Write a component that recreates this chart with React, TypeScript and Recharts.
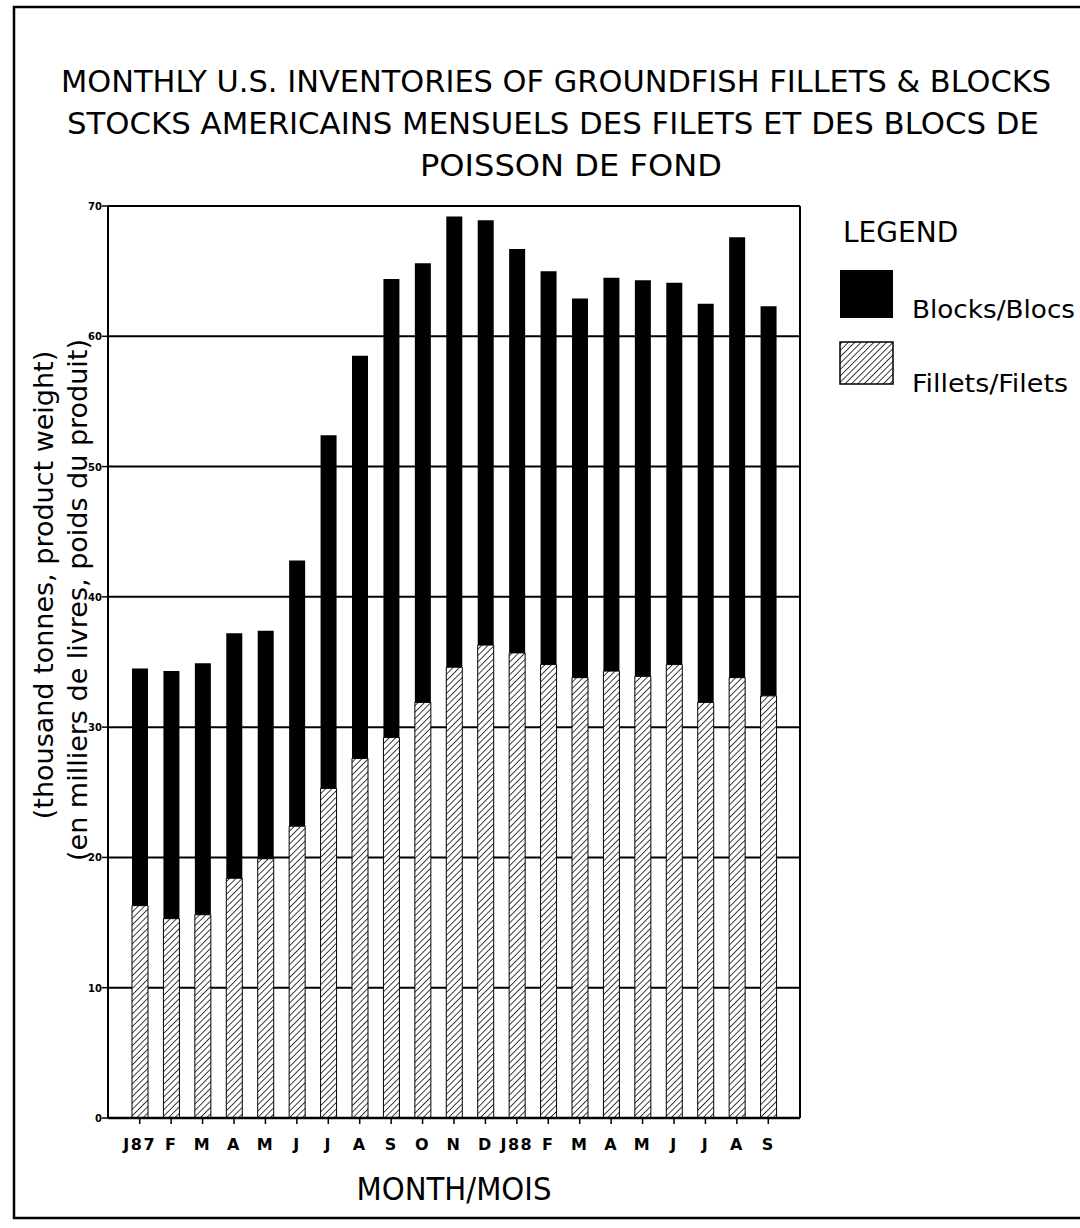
import { Bar, BarChart, CartesianGrid, XAxis, YAxis } from "recharts";

// month labels, Jan 1987 to Sep 1988
const months = ["J87", "F", "M", "A", "M", "J", "J", "A", "S", "O", "N", "D", "J88", "F", "M", "A", "M", "J", "J", "A", "S"];
// thousand tonnes
const fillets = [16.3, 15.3, 15.6, 18.4, 19.9, 22.4, 25.3, 27.6, 29.2, 31.9, 34.6, 36.3, 35.7, 34.8, 33.8, 34.3, 33.9, 34.8, 31.9, 33.8, 32.4];
const blocks = [18.2, 19.0, 19.3, 18.8, 17.5, 20.4, 27.1, 30.9, 35.2, 33.7, 34.6, 32.6, 31.0, 30.2, 29.1, 30.2, 30.4, 29.3, 30.6, 33.8, 29.9];
const yTicks = [0, 10, 20, 30, 40, 50, 60, 70];

const titleLines = [
  "MONTHLY U.S. INVENTORIES OF GROUNDFISH FILLETS & BLOCKS",
  "STOCKS AMERICAINS MENSUELS DES FILETS ET DES BLOCS DE",
  "POISSON DE FOND",
];
const yTitleLines = ["(thousand tonnes, product weight)", "(en milliers de livres, poids du produit)"];
const legendItems = ["Blocks/Blocs", "Fillets/Filets"];

const FONT = "'DejaVu Sans', Verdana, sans-serif";

const chartData = months.map((m, i) => ({ idx: i, month: m, fillets: fillets[i], blocks: blocks[i] }));

function hatch(id: string) {
  return (
    <pattern id={id} patternUnits="userSpaceOnUse" width={4.5} height={4.5} patternTransform="rotate(45)">
      <rect width={4.5} height={4.5} fill="#fff" />
      <line x1={0} y1={0} x2={0} y2={4.5} stroke="#000" strokeWidth={1.5} />
    </pattern>
  );
}

const XTick = (props: any) => (
  <text
    x={props.x}
    y={props.y + 24}
    textAnchor="middle"
    fontFamily={FONT}
    fontWeight="bold"
    fontSize={16}
    letterSpacing={1.5}
    fill="#000"
  >
    {months[props.payload.value]}
  </text>
);

const YTick = (props: any) => (
  <text x={props.x + 2} y={props.y + 4} textAnchor="end" fontFamily={FONT} fontWeight="bold" fontSize={10} fill="#000">
    {props.payload.value}
  </text>
);

export default function App() {
  return (
    <div style={{ position: "absolute", left: 0, top: 0, width: 1080, height: 1228, background: "#fff" }}>
      <BarChart
        width={1080}
        height={1228}
        data={chartData}
        margin={{ top: 206, right: 279, bottom: 70, left: 0 }}
        barSize={16}
      >
        <defs>{hatch("filletHatch")}</defs>
        <CartesianGrid vertical={false} stroke="#000" strokeWidth={2} />
        <XAxis
          dataKey="idx"
          padding={{ left: 16, right: 16 }}
          height={40}
          interval={0}
          axisLine={{ stroke: "#000", strokeWidth: 2.5 }}
          tickLine={{ stroke: "#000", strokeWidth: 1.5 }}
          tickSize={6}
          tick={XTick}
        />
        <YAxis
          domain={[0, 70]}
          ticks={yTicks}
          interval={0}
          width={108}
          axisLine={{ stroke: "#000", strokeWidth: 2 }}
          tickLine={{ stroke: "#000", strokeWidth: 1.5 }}
          tickSize={6}
          tick={YTick}
        />
        <YAxis
          yAxisId="frame"
          orientation="right"
          domain={[0, 70]}
          ticks={yTicks}
          width={1}
          tick={false}
          tickLine={false}
          axisLine={{ stroke: "#000", strokeWidth: 2 }}
        />
        <Bar dataKey="fillets" stackId="inv" fill="url(#filletHatch)" stroke="#000" strokeWidth={1} isAnimationActive={false} />
        <Bar dataKey="blocks" stackId="inv" fill="#000" isAnimationActive={false} />
      </BarChart>

      <svg width={1080} height={1228} style={{ position: "absolute", left: 0, top: 0, pointerEvents: "none" }}>
        <defs>{hatch("legendHatch")}</defs>
        <rect x={14} y={7} width={1100} height={1211} fill="none" stroke="#000" strokeWidth={2.5} />

        <text x={556} y={92} textAnchor="middle" fontFamily={FONT} fontSize={31} textLength={990} lengthAdjust="spacingAndGlyphs">
          {titleLines[0]}
        </text>
        <text x={553} y={134} textAnchor="middle" fontFamily={FONT} fontSize={31} textLength={972} lengthAdjust="spacingAndGlyphs">
          {titleLines[1]}
        </text>
        <text x={571} y={176} textAnchor="middle" fontFamily={FONT} fontSize={31} textLength={302} lengthAdjust="spacingAndGlyphs">
          {titleLines[2]}
        </text>

        <text transform="translate(53, 585) rotate(-90)" textAnchor="middle" fontFamily={FONT} fontSize={27}>
          {yTitleLines[0]}
        </text>
        <text transform="translate(87, 600) rotate(-90)" textAnchor="middle" fontFamily={FONT} fontSize={27}>
          {yTitleLines[1]}
        </text>

        <text x={454} y={1200} textAnchor="middle" fontFamily={FONT} fontSize={32} textLength={195} lengthAdjust="spacingAndGlyphs">
          MONTH/MOIS
        </text>

        <text x={843} y={242} fontFamily={FONT} fontSize={28}>
          LEGEND
        </text>
        <rect x={840} y={270} width={53} height={48} fill="#000" />
        <text x={912} y={318} fontFamily={FONT} fontSize={24} textLength={163} lengthAdjust="spacingAndGlyphs">
          {legendItems[0]}
        </text>
        <rect x={840} y={342} width={53} height={42} fill="url(#legendHatch)" stroke="#000" strokeWidth={1.5} />
        <text x={912} y={392} fontFamily={FONT} fontSize={24} textLength={156} lengthAdjust="spacingAndGlyphs">
          {legendItems[1]}
        </text>
      </svg>
    </div>
  );
}
